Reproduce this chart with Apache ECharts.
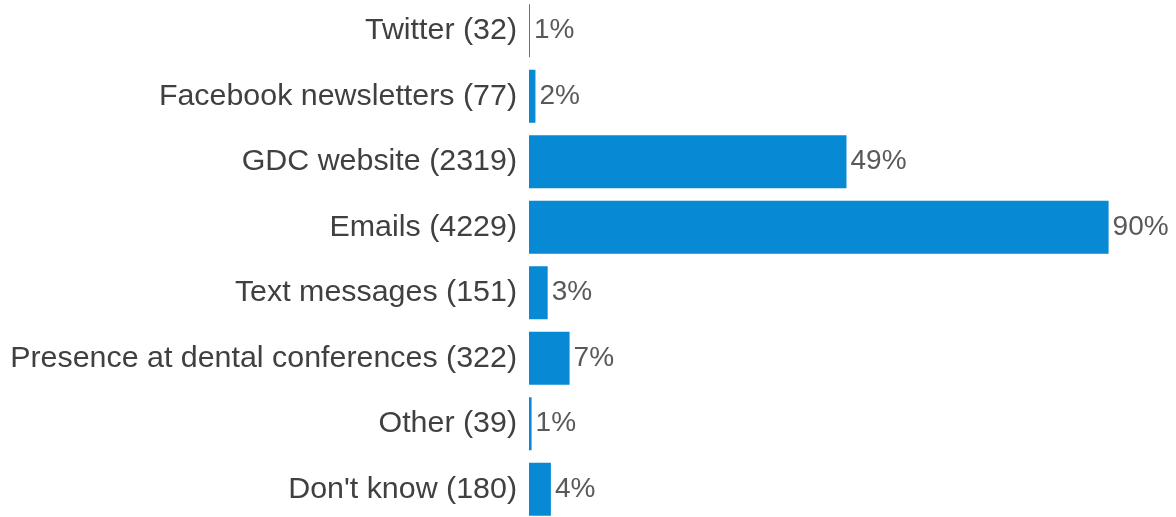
<!DOCTYPE html>
<html>
<head>
<meta charset="utf-8">
<script src="https://cdn.jsdelivr.net/npm/echarts@6/dist/echarts.min.js"></script>
<style>
html,body{margin:0;padding:0;background:#fff;}
#c{width:1176px;height:517px;}
</style>
</head>
<body>
<div id="c"></div>
<script>
var categories = ["Twitter (32)", "Facebook newsletters (77)", "GDC website (2319)", "Emails (4229)", "Text messages (151)", "Presence at dental conferences (322)", "Other (39)", "Don't know (180)"];
var values = [0.15, 1.0, 49.3, 90, 2.9, 6.3, 0.4, 3.4];
var valueLabels = ["1%", "2%", "49%", "90%", "3%", "7%", "1%", "4%"];

var chart = echarts.init(document.getElementById('c'));
chart.setOption({
  animation: false,
  grid: {left: 529, width: 644, top: -2, height: 524, containLabel: false, outerBoundsMode: 'none'},
  xAxis: {
    type: 'value', min: 0, max: 100, show: false
  },
  yAxis: {
    type: 'category', data: categories, inverse: true,
    axisLine: {show: false}, axisTick: {show: false}, splitLine: {show: false},
    axisLabel: {margin: 12, fontSize: 30.4, color: '#404040', fontFamily: 'Liberation Sans, Arial, sans-serif'}
  },
  series: [{
    type: 'bar', data: values, barWidth: 53,
    itemStyle: {color: '#0789D4'},
    label: {
      show: true, position: 'right', distance: 4,
      fontSize: 28, color: '#595959', fontFamily: 'Liberation Sans, Arial, sans-serif',
      formatter: function (p) { return valueLabels[p.dataIndex]; }
    }
  }]
});
</script>
</body>
</html>
